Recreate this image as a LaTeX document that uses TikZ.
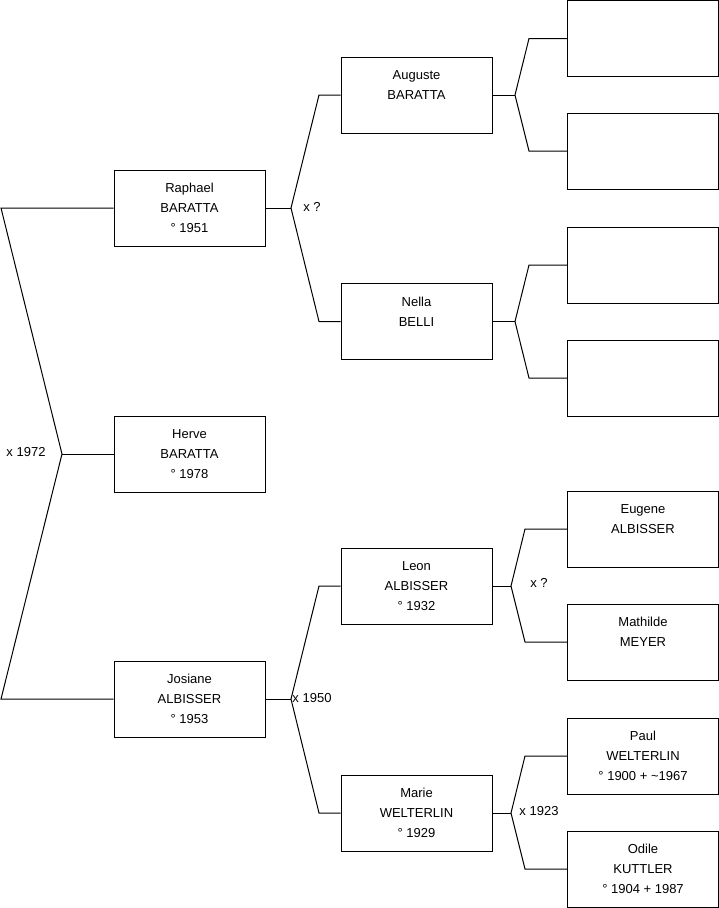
\documentclass[tikz,border=0pt]{standalone}
\usepackage{fontspec}
\setmainfont{Liberation Sans}
\usepackage{tikz}
\usetikzlibrary{positioning}

\begin{document}
\begin{tikzpicture}[x=1pt,y=-1pt,every node/.style={font=\fontsize{13}{20}\selectfont},
  person/.style={rectangle,draw,line width=1pt,minimum width=151pt,minimum height=76pt,inner sep=0pt,align=center},
  link/.style={line width=1pt}]
\useasboundingbox (0,0) rectangle (719,908);
% children
\node[person] (raphael) at (189.5,208) {Raphael\\BARATTA\\° 1951};
\node[person] (herve) at (189.5,454) {Herve\\BARATTA\\° 1978};
\node[person] (josiane) at (189.5,699) {Josiane\\ALBISSER\\° 1953};
% parents
\node[person] (auguste) at (416.5,95) {Auguste\\BARATTA\\\mbox{}};
\node[person] (nella) at (416.5,321.5) {Nella\\BELLI\\\mbox{}};
\node[person] (leon) at (416.5,586) {Leon\\ALBISSER\\° 1932};
\node[person] (marie) at (416.5,813) {Marie\\WELTERLIN\\° 1929};
% grandparents
\node[person] (aug1) at (643,38.5) {};
\node[person] (aug2) at (643,151) {};
\node[person] (nel1) at (643,265) {};
\node[person] (nel2) at (643,378) {};
\node[person] (eugene) at (643,529) {Eugene\\ALBISSER\\\mbox{}};
\node[person] (mathilde) at (643,642) {Mathilde\\MEYER\\\mbox{}};
\node[person] (paul) at (643,756) {Paul\\WELTERLIN\\° 1900 + \textasciitilde1967};
\node[person] (odile) at (643,869) {Odile\\KUTTLER\\° 1904 + 1987};
% marriages
\coordinate (m0) at (62,454);
\coordinate (m0a) at (1,208);
\coordinate (m0b) at (1,699);
\draw[link] (raphael.west) -- (m0a) -- (m0) -- (m0b) -- (josiane.west);
\draw[link] (m0) -- (herve.west);
\node (l1972) at (26,452) {x 1972};
\coordinate (m1) at (291,208);
\coordinate (m1a) at (319,95);
\coordinate (m1b) at (319,321.5);
\draw[link] (auguste.west) -- (m1a) -- (m1) -- (m1b) -- (nella.west);
\draw[link] (raphael.east) -- (m1);
\node (l1) at (312,207) {x ?};
\coordinate (m2) at (291,699);
\coordinate (m2a) at (319,586);
\coordinate (m2b) at (319,813);
\draw[link] (leon.west) -- (m2a) -- (m2) -- (m2b) -- (marie.west);
\draw[link] (josiane.east) -- (m2);
\node (l1950) at (312,698) {x 1950};
\coordinate (m3) at (515,95);
\coordinate (m3a) at (529,38.5);
\coordinate (m3b) at (529,151);
\draw[link] (aug1.west) -- (m3a) -- (m3) -- (m3b) -- (aug2.west);
\draw[link] (auguste.east) -- (m3);
\coordinate (m4) at (515,321.5);
\coordinate (m4a) at (529,265);
\coordinate (m4b) at (529,378);
\draw[link] (nel1.west) -- (m4a) -- (m4) -- (m4b) -- (nel2.west);
\draw[link] (nella.east) -- (m4);
\coordinate (m5) at (511,586);
\coordinate (m5a) at (525,529);
\coordinate (m5b) at (525,642);
\draw[link] (eugene.west) -- (m5a) -- (m5) -- (m5b) -- (mathilde.west);
\draw[link] (leon.east) -- (m5);
\node (l2) at (539,583) {x ?};
\coordinate (m6) at (511,813);
\coordinate (m6a) at (525,756);
\coordinate (m6b) at (525,869);
\draw[link] (paul.west) -- (m6a) -- (m6) -- (m6b) -- (odile.west);
\draw[link] (marie.east) -- (m6);
\node (l1923) at (539,811) {x 1923};
\end{tikzpicture}
\end{document}
